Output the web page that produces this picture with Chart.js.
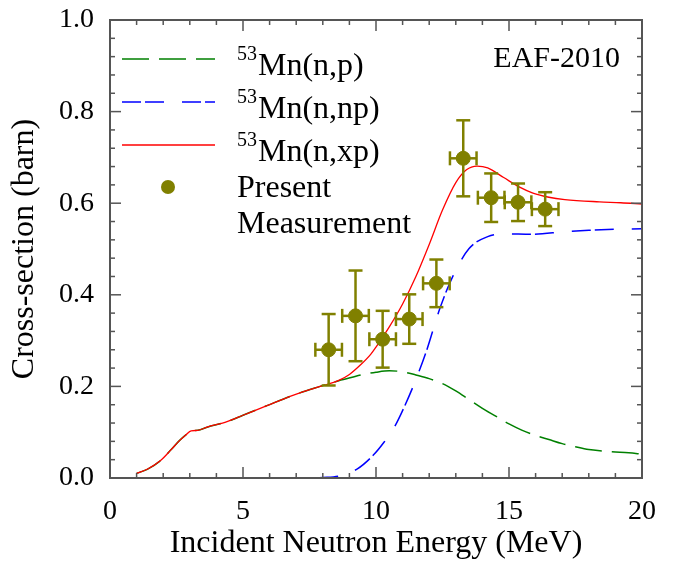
<!DOCTYPE html>
<html lang="en">
<head>
<meta charset="UTF-8">
<title>53Mn cross-sections</title>
<script src="https://cdn.jsdelivr.net/npm/chart.js@4.4.1/dist/chart.umd.min.js"></script>
<style>
  body { margin: 0; background: #fff; }
  #wrap { width: 673px; height: 563px; }
</style>
</head>
<body>
<div id="wrap"><canvas id="chart" width="673" height="563"></canvas></div>
<script>
// ---- data ----
// 53Mn(n,xp) EAF-2010
const xpEnergy = [1.0, 1.4, 1.9, 2.3, 2.6, 2.85, 3.05, 3.3, 3.65, 4.4, 5.0, 5.9, 6.9, 7.9, 8.6, 9.0, 9.4, 9.8, 10.0, 10.5, 11.0, 11.5, 12.0, 12.5, 13.0, 13.4, 13.8, 14.2, 14.8, 15.4, 15.9, 16.5, 17.1, 18.4, 19.2, 20.0];
const xpXs     = [0.010, 0.019, 0.038, 0.062, 0.081, 0.094, 0.103, 0.104, 0.111, 0.123, 0.137, 0.158, 0.181, 0.200, 0.213, 0.226, 0.246, 0.270, 0.286, 0.330, 0.380, 0.440, 0.510, 0.585, 0.645, 0.673, 0.681, 0.677, 0.656, 0.635, 0.622, 0.613, 0.608, 0.603, 0.601, 0.598];

// 53Mn(n,p)
const pEnergy = [1.0, 1.4, 1.9, 2.3, 2.6, 2.85, 3.05, 3.3, 3.65, 4.4, 5.0, 5.9, 6.9, 7.9, 8.6, 9.1, 9.6, 10.0, 10.5, 11.0, 11.5, 12.0, 12.5, 13.0, 13.5, 14.0, 14.5, 15.0, 15.5, 16.0, 16.5, 17.0, 17.5, 18.0, 18.5, 19.0, 19.5, 20.0];
const pXs     = [0.010, 0.019, 0.038, 0.062, 0.081, 0.094, 0.103, 0.104, 0.111, 0.123, 0.137, 0.158, 0.181, 0.200, 0.2125, 0.220, 0.227, 0.231, 0.234, 0.232, 0.225, 0.217, 0.206, 0.190, 0.171, 0.152, 0.135, 0.118, 0.104, 0.093, 0.084, 0.075, 0.068, 0.062, 0.059, 0.057, 0.055, 0.052];

// 53Mn(n,np)
const npEnergy = [7.0, 7.5, 8.0, 8.6, 9.3, 9.9, 10.3, 10.7, 11.1, 11.5, 11.9, 12.4, 12.9, 13.5, 14.2, 14.8, 15.9, 17.1, 18.0, 19.0, 20.0];
const npXs     = [0.000, 0.000, 0.001, 0.004, 0.020, 0.050, 0.078, 0.112, 0.160, 0.215, 0.278, 0.370, 0.442, 0.501, 0.527, 0.533, 0.532, 0.538, 0.541, 0.543, 0.544];

// present measurement
const measEnergy    = [8.22, 9.23, 10.25, 11.25, 12.27, 13.28, 14.33, 15.34, 16.36];
const measEnergyErr = [0.5, 0.5, 0.5, 0.5, 0.5, 0.5, 0.5, 0.5, 0.5];
const measXs        = [0.280, 0.354, 0.303, 0.347, 0.425, 0.698, 0.612, 0.602, 0.587];
const measXsErr     = [0.078, 0.099, 0.062, 0.054, 0.052, 0.083, 0.053, 0.041, 0.037];

const xTicks = [0, 5, 10, 15, 20];
const yTicks = [0.0, 0.2, 0.4, 0.6, 0.8, 1.0];

const OLIVE = '#808000';
const AXIS = '#555555';
const SERIF = '"Liberation Serif", "Times New Roman", serif';

const toPts = (xs, ys) => xs.map((v, i) => ({ x: v, y: ys[i] }));

// frame with inward ticks on all four sides
const frame = {
    id: 'frame',
    afterDraw(chart) {
        const { ctx, chartArea: a, scales: { x, y } } = chart;
        ctx.save();
        ctx.strokeStyle = AXIS;
        ctx.lineWidth = 1.5;
        const seg = (x0, y0, x1, y1) => { ctx.beginPath(); ctx.moveTo(x0, y0); ctx.lineTo(x1, y1); ctx.stroke(); };
        for (let v = 0; v <= 20; v += 1) {
            const px = x.getPixelForValue(v);
            const len = v % 5 === 0 ? 11 : 5;
            seg(px, a.bottom, px, a.bottom - len);
            seg(px, a.top, px, a.top + len);
        }
        for (let i = 0; i <= 25; i++) {
            const py = y.getPixelForValue(i * 0.04);
            const len = i % 5 === 0 ? 11 : 5;
            seg(a.left, py, a.left + len, py);
            seg(a.right, py, a.right - len, py);
        }
        ctx.lineWidth = 2;
        ctx.strokeRect(a.left, a.top, a.right - a.left, a.bottom - a.top);
        ctx.restore();
    }
};

// error bars for the measurement
const errorBars = {
    id: 'errorBars',
    afterDatasetsDraw(chart) {
        const { ctx, scales: { x, y } } = chart;
        ctx.save();
        ctx.strokeStyle = OLIVE;
        ctx.lineWidth = 2.5;
        const cap = 7;
        const seg = (x0, y0, x1, y1) => { ctx.beginPath(); ctx.moveTo(x0, y0); ctx.lineTo(x1, y1); ctx.stroke(); };
        measEnergy.forEach((e, i) => {
            const px = x.getPixelForValue(e);
            const py = y.getPixelForValue(measXs[i]);
            const xl = x.getPixelForValue(e - measEnergyErr[i]);
            const xr = x.getPixelForValue(e + measEnergyErr[i]);
            const yt = y.getPixelForValue(measXs[i] + measXsErr[i]);
            const yb = y.getPixelForValue(measXs[i] - measXsErr[i]);
            seg(xl, py, xr, py);
            seg(xl, py - cap, xl, py + cap);
            seg(xr, py - cap, xr, py + cap);
            seg(px, yt, px, yb);
            seg(px - cap, yt, px + cap, yt);
            seg(px - cap, yb, px + cap, yb);
        });
        ctx.restore();
    }
};

// legend with superscripts, plus the EAF-2010 label
const legendBox = {
    id: 'legendBox',
    afterDraw(chart) {
        const ctx = chart.ctx;
        ctx.save();
        const rows = [
            { color: 'green', dash: [27, 10], width: 1.5, text: 'Mn(n,p)', y: 59 },
            { color: 'blue', dash: [19, 4, 19, 18], width: 1.5, text: 'Mn(n,np)', y: 102 },
            { color: 'red', dash: [], width: 1.3, text: 'Mn(n,xp)', y: 145 }
        ];
        ctx.fillStyle = '#000';
        ctx.textBaseline = 'alphabetic';
        rows.forEach(r => {
            ctx.strokeStyle = r.color;
            ctx.lineWidth = r.width;
            ctx.setLineDash(r.dash);
            ctx.beginPath();
            ctx.moveTo(122, r.y);
            ctx.lineTo(215, r.y);
            ctx.stroke();
            ctx.setLineDash([]);
            ctx.font = '20px ' + SERIF;
            ctx.fillText('53', 237, r.y + 1);
            ctx.font = '32px ' + SERIF;
            ctx.fillText(r.text, 258, r.y + 16);
        });
        ctx.fillStyle = OLIVE;
        ctx.beginPath();
        ctx.arc(168, 187, 7, 0, Math.PI * 2);
        ctx.fill();
        ctx.fillStyle = '#000';
        ctx.font = '32px ' + SERIF;
        ctx.fillText('Present', 237, 197);
        ctx.fillText('Measurement', 237, 233);
        ctx.font = '30px ' + SERIF;
        ctx.textAlign = 'right';
        ctx.fillText('EAF-2010', 620, 67);
        ctx.restore();
    }
};

const tickFont = { family: SERIF, size: 28 };
const titleFont = { family: SERIF, size: 32 };

new Chart(document.getElementById('chart'), {
    type: 'scatter',
    data: {
        datasets: [
            {
                label: 'Present Measurement',
                data: toPts(measEnergy, measXs),
                backgroundColor: OLIVE,
                borderColor: OLIVE,
                pointRadius: 7,
                pointHoverRadius: 7
            },
            {
                label: '53Mn(n,xp)',
                data: toPts(xpEnergy, xpXs),
                showLine: true,
                borderColor: 'red',
                borderWidth: 1.3,
                pointRadius: 0,
                cubicInterpolationMode: 'monotone'
            },
            {
                label: '53Mn(n,np)',
                data: toPts(npEnergy, npXs),
                showLine: true,
                borderColor: 'blue',
                borderWidth: 1.5,
                borderDash: [19, 4, 19, 18],
                pointRadius: 0,
                cubicInterpolationMode: 'monotone'
            },
            {
                label: '53Mn(n,p)',
                data: toPts(pEnergy, pXs),
                showLine: true,
                borderColor: 'green',
                borderWidth: 1.5,
                borderDash: [27, 10],
                pointRadius: 0,
                cubicInterpolationMode: 'monotone'
            }
        ]
    },
    options: {
        responsive: false,
        animation: false,
        devicePixelRatio: 1,
        layout: { padding: { top: 20, right: 29, left: 0, bottom: 0 } },
        plugins: {
            legend: { display: false },
            tooltip: { enabled: false }
        },
        scales: {
            x: {
                type: 'linear',
                min: 0,
                max: 20,
                grid: { display: false, drawTicks: false },
                border: { display: false },
                afterBuildTicks: s => { s.ticks = xTicks.map(v => ({ value: v })); },
                ticks: { color: '#000', font: tickFont, padding: 17, callback: v => String(v) },
                title: { display: true, text: 'Incident Neutron Energy (MeV)', color: '#000', font: titleFont, padding: 0 },
                afterFit: s => { s.height = 85; }
            },
            y: {
                type: 'linear',
                min: 0,
                max: 1,
                grid: { display: false, drawTicks: false },
                border: { display: false },
                afterBuildTicks: s => { s.ticks = yTicks.map(v => ({ value: v })); },
                ticks: { color: '#000', font: tickFont, padding: 16, callback: v => Number(v).toFixed(1) },
                title: { display: true, text: 'Cross-section (barn)', color: '#000', font: titleFont, padding: { top: 5, bottom: 0 } },
                afterFit: s => { s.width = 110; s.paddingTop = 0; s.paddingBottom = 0; }
            }
        }
    },
    plugins: [frame, errorBars, legendBox]
});
</script>
</body>
</html>
